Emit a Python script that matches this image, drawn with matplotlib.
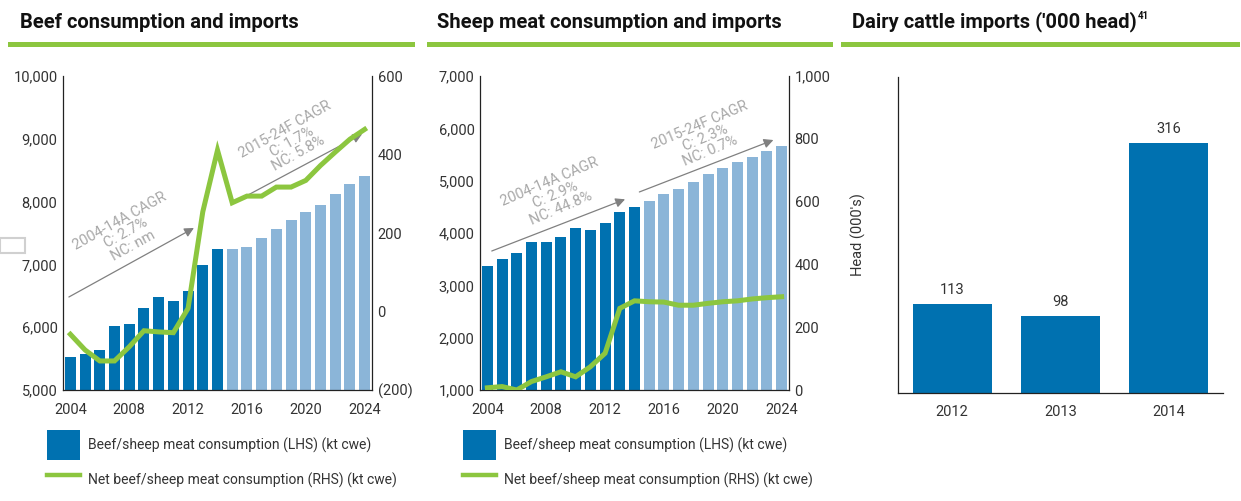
import numpy as np
import matplotlib.pyplot as plt
from matplotlib.patches import Rectangle, Patch
from matplotlib.lines import Line2D
from matplotlib.ticker import FuncFormatter

plt.rcParams['font.family'] = ['Roboto', 'DejaVu Sans']

# data
years = list(range(2004, 2025))
first_forecast = 2015

beef_consumption = [5530, 5573, 5636, 6018, 6050, 6304, 6479, 6416, 6580, 6988, 7243,
                    7243, 7275, 7418, 7561, 7704, 7831, 7943, 8118, 8277, 8404]
beef_net = [-58, -98, -126, -126, -90, -49, -52, -54, 8, 254, 411,
            277, 294, 294, 317, 317, 334, 372, 406, 439, 464]

sheep_consumption = [3373, 3508, 3624, 3836, 3836, 3932, 4087, 4048, 4183, 4395, 4492,
                     4608, 4743, 4839, 4974, 5129, 5244, 5360, 5457, 5572, 5669]
sheep_net = [7, 11, 0, 27, 42, 58, 42, 74, 117, 260, 284,
             281, 280, 270, 270, 276, 281, 284, 290, 294, 297]

dairy_years = ['2012', '2013', '2014']
dairy_imports = [113, 98, 316]

beef_notes = ["2004-14A CAGR\nC: 2.7%\nNC: nm", "2015-24F CAGR\nC: 1.7%\nNC: 5.8%"]
sheep_notes = ["2004-14A CAGR\nC: 2.9%\nNC: 44.8%", "2015-24F CAGR\nC: 2.3%\nNC: 0.7%"]

DARK = '#0071B0'
LIGHT = '#8BB5D8'
GREEN = '#8CC63F'
TXT = '#333333'
NOTE = '#A8A8A8'

W, H = 1241, 501
fig = plt.figure(figsize=(W / 100, H / 100), dpi=100)


def fx(px):
    return px / W


def fy(py):
    return 1 - py / H


def thousands(v, pos):
    if v < 0:
        return '({:,.0f})'.format(-v)
    return '{:,.0f}'.format(v)


def panel(left, cons, net, lhs, rhs, notes, arrows, note_pos, angle):
    ax = fig.add_axes([fx(left), fy(390), fx(309), 314 / H])
    cols = [DARK if y < first_forecast else LIGHT for y in years]
    ax.bar(years, cons, width=0.75, color=cols, zorder=2)
    ax.set_xlim(2003.5, 2024.5)
    ax.set_ylim(lhs[0], lhs[-1])
    ax.set_yticks(lhs)
    ax.set_xticks(range(2004, 2025, 4))
    ax.yaxis.set_major_formatter(FuncFormatter(thousands))
    ax.tick_params(length=0, labelsize=10.5, colors=TXT)
    ax.tick_params(axis='x', pad=9)
    ax.tick_params(axis='y', pad=4)
    for s in ['top', 'right']:
        ax.spines[s].set_visible(False)
    for s in ['left', 'bottom']:
        ax.spines[s].set_color('#222222')
        ax.spines[s].set_linewidth(0.9)

    ax2 = ax.twinx()
    ax2.plot(years, net, color=GREEN, lw=3.6, solid_joinstyle='miter', zorder=3)
    ax2.set_ylim(rhs[0], rhs[-1])
    ax2.set_yticks(rhs)
    ax2.yaxis.set_major_formatter(FuncFormatter(thousands))
    ax2.tick_params(length=0, labelsize=10.5, colors=TXT, pad=4)
    for s in ['top', 'left', 'bottom']:
        ax2.spines[s].set_visible(False)
    ax2.spines['right'].set_color('#222222')
    ax2.spines['right'].set_linewidth(0.9)

    for (p0, p1), txt, tp in zip(arrows, notes, note_pos):
        ax.annotate('', xy=p1, xytext=p0,
                    arrowprops=dict(arrowstyle='-|>', color='#808080', lw=0.9,
                                    mutation_scale=14, shrinkA=0, shrinkB=0),
                    zorder=4)
        ax.text(tp[0], tp[1], txt, rotation=angle, rotation_mode='anchor',
                ha='center', va='center', multialignment='center',
                fontsize=10.5, color=NOTE, linespacing=1.0, zorder=4)
    return ax


panel(63, beef_consumption, beef_net,
      [5000, 6000, 7000, 8000, 9000, 10000], [-200, 0, 200, 400, 600],
      beef_notes,
      [((2003.9, 6481), (2012.4, 7580)), ((2015.06, 7978), (2023.83, 9076))],
      [(2007.8, 7495), (2019.05, 8954)], 29)

panel(480, sheep_consumption, sheep_net,
      [1000, 2000, 3000, 4000, 5000, 6000, 7000], [0, 200, 400, 600, 800, 1000],
      sheep_notes,
      [((2004.3, 3656), (2013.36, 4644)), ((2014.33, 4784), (2023.44, 5777))],
      [(2008.6, 4726), (2018.8, 5810)], 23)

# dairy cattle imports
ax3 = fig.add_axes([fx(898), fy(393), fx(325), 316 / H])
bars = ax3.bar(dairy_years, dairy_imports, width=0.73, color=DARK)
ax3.bar_label(bars, padding=5, fontsize=10.5, color=TXT)
ax3.set_xlim(-0.5, 2.5)
ax3.set_ylim(0, 400)
ax3.set_yticks([])
ax3.tick_params(axis='x', length=0, pad=9, labelsize=10.5, colors=TXT)
ax3.set_ylabel("Head (000's)", fontsize=10.5, color=TXT)
ax3.yaxis.set_label_coords(-0.1, 0.5)
for s in ['top', 'right']:
    ax3.spines[s].set_visible(False)
for s in ['left', 'bottom']:
    ax3.spines[s].set_color('#222222')
    ax3.spines[s].set_linewidth(0.9)

# titles with green rules
titles = [(20, 'Beef consumption and imports', 8, 415),
          (437, 'Sheep meat consumption and imports', 427, 833),
          (852, "Dairy cattle imports ('000 head)", 841, 1240)]
title_objs = []
for x, t, r0, r1 in titles:
    title_objs.append(fig.text(fx(x), fy(22), t, fontsize=14.5, fontweight='bold',
                               color='#111111', va='center', ha='left'))
    fig.patches.append(Rectangle((fx(r0), fy(47)), fx(r1 - r0), 5 / H,
                                 transform=fig.transFigure, color=GREEN, lw=0))

fig.canvas.draw()
bb = title_objs[2].get_window_extent()
fig.text(fx(bb.x1 + 1), fy(16), '41', fontsize=7, fontweight='bold',
         color='#111111', va='center', ha='left')

# stray box at the left edge of the reference
fig.patches.append(Rectangle((fx(0), fy(253)), fx(25), 15 / H,
                             transform=fig.transFigure, fill=False,
                             edgecolor='#D0D0D0', lw=1.5))

# legends
handles = [Patch(facecolor=DARK, edgecolor='none'),
           Line2D([0], [0], color=GREEN, lw=3.2)]
labels = ['Beef/sheep meat consumption (LHS) (kt cwe)',
          'Net beef/sheep meat consumption (RHS) (kt cwe)']
for lx in (47, 463):
    fig.legend(handles, labels, loc='upper left',
               bbox_to_anchor=(fx(lx), fy(430)), bbox_transform=fig.transFigure,
               frameon=False, fontsize=10, labelcolor=TXT,
               handlelength=2.38, handleheight=2.95, handletextpad=0.6,
               labelspacing=0.4, borderpad=0, borderaxespad=0)

fig.savefig('out.png', dpi=100)
